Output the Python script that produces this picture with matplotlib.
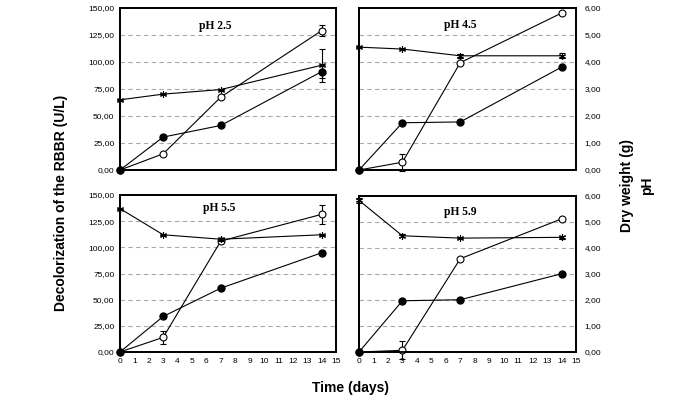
import matplotlib
matplotlib.use("Agg")
import matplotlib.pyplot as plt
from matplotlib.ticker import FuncFormatter, MultipleLocator

days = [0, 3, 7, 14]
panel_titles = ["pH 2.5", "pH 4.5", "pH 5.5", "pH 5.9"]

# Decolorization of RBBR (U/L) - open circles, left axis
decol_25 = [0, 15, 67.5, 129]
decol_45 = [0, 7.2, 99.4, 145.3]
decol_55 = [0, 14, 106, 131.5]
decol_59 = [0, 1.6, 89.7, 128]
decol_err_25 = [0, 0, 0, 5]
decol_err_45 = [0, 8, 0, 0]
decol_err_55 = [0, 6, 0, 9]
decol_err_59 = [0, 8.5, 0, 0]

# Dry weight (g) - filled circles, right axis
dry_25 = [0, 1.22, 1.65, 3.64]
dry_45 = [0, 1.75, 1.78, 3.81]
dry_55 = [0, 1.36, 2.44, 3.79]
dry_59 = [0, 1.97, 2.01, 3.01]
dry_err_25 = [0, 0, 0, 0.25]
dry_err_45 = [0, 0, 0, 0]
dry_err_55 = [0, 0, 0, 0]
dry_err_59 = [0, 0, 0, 0]

# pH - asterisks, right axis
ph_25 = [2.60, 2.81, 2.98, 3.88]
ph_45 = [4.55, 4.48, 4.23, 4.23]
ph_55 = [5.48, 4.48, 4.31, 4.48]
ph_59 = [5.83, 4.47, 4.38, 4.41]
ph_err_25 = [0, 0, 0, 0.62]
ph_err_45 = [0, 0, 0.08, 0.1]
ph_err_55 = [0, 0, 0.06, 0]
ph_err_59 = [0.08, 0.05, 0, 0.07]

decol = [decol_25, decol_45, decol_55, decol_59]
decol_err = [decol_err_25, decol_err_45, decol_err_55, decol_err_59]
dry = [dry_25, dry_45, dry_55, dry_59]
dry_err = [dry_err_25, dry_err_45, dry_err_55, dry_err_59]
ph = [ph_25, ph_45, ph_55, ph_59]
ph_err = [ph_err_25, ph_err_45, ph_err_55, ph_err_59]

W, H = 692, 403
fig = plt.figure(figsize=(W / 100, H / 100), dpi=100)

# panel boxes in pixels: (left, top, right, bottom)
boxes = [(120, 8, 336, 170), (359, 8, 576, 170),
         (120, 195, 336, 352), (359, 196, 576, 352)]
title_pos = [(0.44, 0.89), (0.465, 0.895), (0.46, 0.915), (0.465, 0.90)]

comma = FuncFormatter(lambda v, p: f"{v:.2f}".replace(".", ","))
tick_font = dict(family="Liberation Sans", size=6)
asterisk = (6, 2, 0)

for i, (l, t, r, b) in enumerate(boxes):
    ax = fig.add_axes([l / W, (H - b) / H, (r - l) / W, (b - t) / H])
    ax2 = ax.twinx()
    ax.set_xlim(0, 15)
    ax.set_ylim(0, 150)
    ax2.set_ylim(0, 6)
    ax.yaxis.set_major_locator(MultipleLocator(25))
    ax2.yaxis.set_major_locator(MultipleLocator(1))
    ax.xaxis.set_major_locator(MultipleLocator(1))
    for y in range(25, 150, 25):
        ax.axhline(y, color="#aaaaaa", lw=0.8, ls=(0, (4, 3)), zorder=0)
    for a in (ax, ax2):
        for s in a.spines.values():
            s.set_linewidth(1.3)
            s.set_color("black")
        a.tick_params(length=0)
    ax.tick_params(axis="both", pad=4)
    ax2.tick_params(axis="y", pad=6)

    left_col = i in (0, 2)
    bottom_row = i in (2, 3)
    if left_col:
        ax.yaxis.set_major_formatter(comma)
        for lab in ax.get_yticklabels():
            lab.set(**tick_font)
        ax2.set_yticklabels([])
    else:
        ax.set_yticklabels([])
        ax2.yaxis.set_major_formatter(comma)
        for lab in ax2.get_yticklabels():
            lab.set(**tick_font)
    if bottom_row:
        ax.set_xticks(range(0, 16))
        ax.set_xticklabels([str(d) for d in range(0, 16)], **tick_font)
    else:
        ax.set_xticklabels([])

    # series
    ax.errorbar(days, decol[i], yerr=decol_err[i], color="black", lw=0.8,
                marker="o", ms=5, mfc="white", mec="black", mew=0.8,
                capsize=2.5, elinewidth=0.8, capthick=0.8, zorder=3, clip_on=False)
    ax2.errorbar(days, dry[i], yerr=dry_err[i], color="black", lw=0.8,
                 marker="o", ms=5, mfc="black", mec="black",
                 capsize=2.5, elinewidth=0.8, capthick=0.8, zorder=4, clip_on=False)
    ax2.errorbar(days, ph[i], yerr=ph_err[i], color="black", lw=0.8,
                 marker=asterisk, ms=5, mec="black", mew=0.8,
                 capsize=2.5, elinewidth=0.8, capthick=0.8, zorder=4, clip_on=False)
    tx, ty = title_pos[i]
    ax.text(tx, ty, panel_titles[i], transform=ax.transAxes, ha="center", va="center",
            family="Liberation Serif", fontweight="bold", fontsize=8.3)

fig.text(61 / W, 1 - 203 / H, "Decolorization of the RBBR (U/L)", rotation=90,
         ha="center", va="center", family="Liberation Sans", fontweight="bold", fontsize=10)
fig.text(637 / W, 1 - 186 / H, "Dry weight (g)\npH", rotation=90,
         ha="center", va="center", family="Liberation Sans", fontweight="bold",
         fontsize=10, multialignment="center", linespacing=1.55)
fig.text(350 / W, 1 - 388 / H, "Time (days)", ha="center", va="center",
         family="Liberation Sans", fontweight="bold", fontsize=10)

fig.savefig("out.png", dpi=100)
